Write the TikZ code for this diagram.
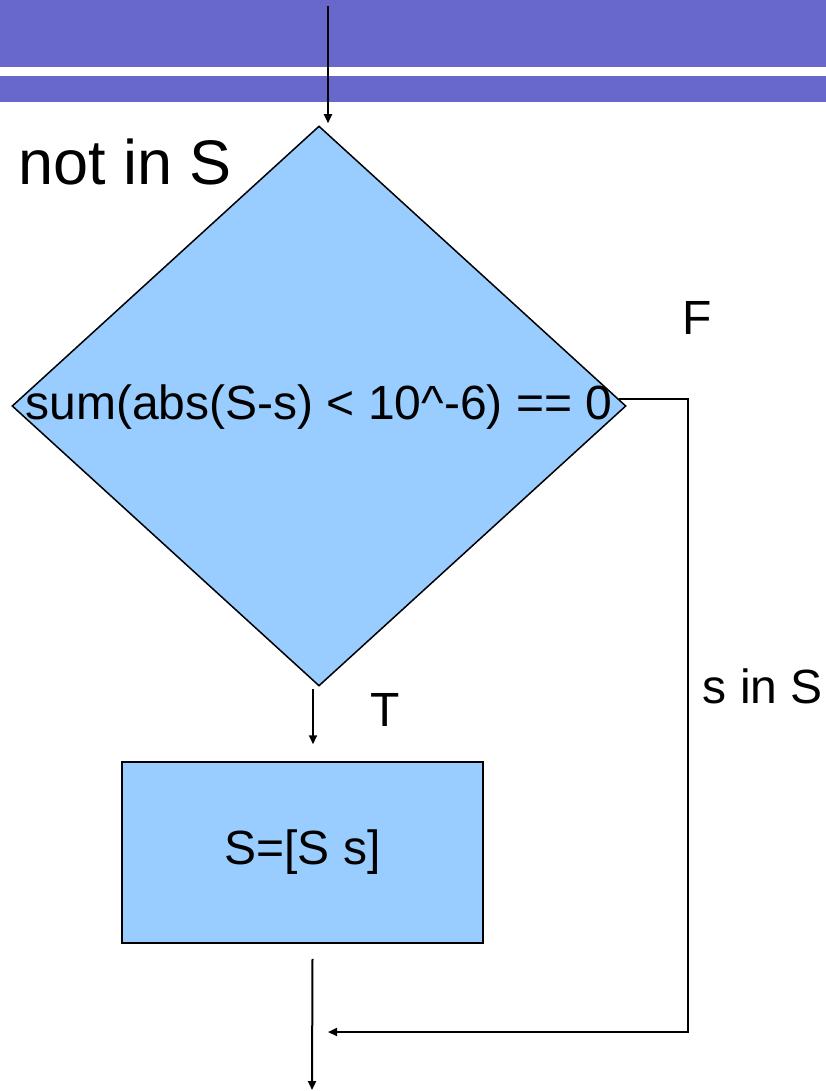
\documentclass[tikz,border=0pt]{standalone}
\usepackage{fontspec}
\setmainfont{Liberation Sans}
\usepackage{tikz}
\usetikzlibrary{arrows.meta, positioning, calc, shapes.geometric}
\definecolor{figbar}{HTML}{6868CC}
\definecolor{figfill}{HTML}{99CCFF}
\tikzset{
  figbox/.style={draw=black, fill=figfill, line width=1.5pt, inner sep=0pt,
    minimum width=361pt, minimum height=181pt, font=\fontsize{48}{56}\selectfont},
  figdecision/.style={diamond, draw=black, fill=figfill, line width=1.5pt, inner sep=0pt,
    minimum width=614pt, minimum height=560pt},
  figarrow/.style={-{Triangle[length=9pt,width=8pt]}, line width=2pt, black},
  figlabel/.style={font=\fontsize{48}{56}\selectfont, inner sep=0pt},
  figtitle/.style={font=\fontsize{63}{72}\selectfont, inner sep=0pt},
}
\begin{document}
\begin{tikzpicture}[x=1pt,y=-1pt]
  \useasboundingbox (0,0) rectangle (826,1091);
  % Kopfleiste
  \fill[figbar] (0,0) rectangle (826,67);
  \fill[figbar] (0,76) rectangle (826,102);

  \node[figdecision] (cond) at (319,406) {};
  \node[figlabel] (condtxt) at (319,407) {sum(abs(S-s) < 10\^{}-6) == 0};
  \node[figbox] (box) at (302.5,852.5) {S=[S s]};
  \node[figtitle] (title) at (125,162) {not in S};
  \node[figlabel] (lblF) at (697,318) {F};
  \node[figlabel] (lblT) at (385,710) {T};
  \node[figlabel] (lblin) at (763,686) {s in S};

  \coordinate (in) at (328,6);
  \coordinate (merge) at (328,1032);
  \coordinate (out) at (312,1090);

  \draw[figarrow] (in) -- ([yshift=2pt]in |- cond.north);
  \draw[figarrow] ([xshift=-6pt,yshift=-2pt]cond.south) -- ([xshift=-6pt,yshift=17pt]cond.south |- box.north);
  \draw[figarrow] ([xshift=10pt,yshift=-15pt]box.south) -- (out);
  \draw[figarrow] ([xshift=-8pt,yshift=7pt]cond.east) -| (688,1032) -- (merge);
\end{tikzpicture}
\end{document}
